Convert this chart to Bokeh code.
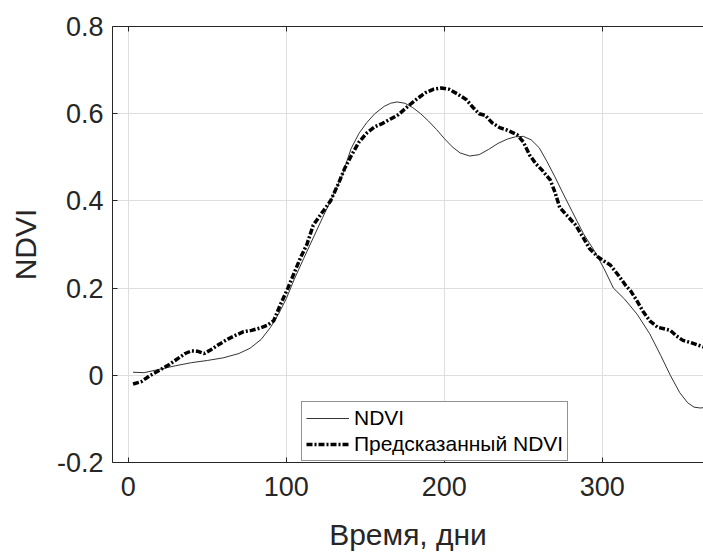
from bokeh.plotting import figure
from bokeh.models import Range1d, LinearAxis, FixedTicker
from bokeh.embed import file_html
from bokeh.resources import INLINE

# ---- data ----
ndvi_days = [3, 10, 20, 30, 40, 50, 60, 70, 77, 84, 90, 95, 100, 105, 111, 117, 123, 128,
             135, 141, 146, 151, 156, 162, 166, 170, 175, 180, 185, 190, 195, 200, 205, 210,
             216, 222, 228, 234, 240, 245, 250, 255, 260, 265, 270, 275, 281, 288, 295, 301,
             307, 314, 322, 330, 337, 343, 349, 354, 358, 362, 364]
ndvi_vals = [0.007, 0.006, 0.014, 0.022, 0.029, 0.034, 0.040, 0.050, 0.062, 0.082, 0.110,
             0.140, 0.176, 0.220, 0.268, 0.315, 0.362, 0.400, 0.455, 0.520, 0.555, 0.580,
             0.600, 0.617, 0.624, 0.627, 0.624, 0.614, 0.600, 0.583, 0.564, 0.543, 0.524,
             0.510, 0.503, 0.506, 0.518, 0.532, 0.542, 0.547, 0.548, 0.540, 0.522, 0.490,
             0.455, 0.418, 0.375, 0.325, 0.285, 0.245, 0.200, 0.175, 0.140, 0.095, 0.045,
             0.000, -0.040, -0.063, -0.073, -0.075, -0.074]

pred_days = [3, 8, 14, 20, 26, 32, 36, 40, 44, 48, 52, 57, 63, 68, 73, 78, 83, 88, 92, 96,
             101, 105, 109, 113, 117, 122, 128, 133, 137, 141, 146, 151, 156, 161, 166, 171,
             177, 182, 188, 193, 198, 203, 208, 214, 218, 222, 226, 230, 235, 240, 246, 250,
             254, 258, 262, 267, 270, 273, 278, 283, 288, 292, 297, 301, 305, 310, 315, 318,
             322, 326, 330, 335, 340, 343, 347, 351, 356, 360, 364]
pred_vals = [-0.020, -0.015, 0.000, 0.012, 0.025, 0.040, 0.050, 0.056, 0.055, 0.050, 0.058,
             0.070, 0.083, 0.092, 0.100, 0.103, 0.108, 0.115, 0.125, 0.160, 0.200, 0.235,
             0.270, 0.300, 0.344, 0.370, 0.400, 0.440, 0.475, 0.503, 0.535, 0.556, 0.570,
             0.578, 0.588, 0.598, 0.617, 0.632, 0.648, 0.656, 0.659, 0.656, 0.646, 0.632,
             0.615, 0.600, 0.596, 0.580, 0.568, 0.562, 0.552, 0.535, 0.505, 0.485, 0.470,
             0.448, 0.420, 0.385, 0.365, 0.345, 0.315, 0.290, 0.272, 0.262, 0.253, 0.230,
             0.205, 0.193, 0.170, 0.145, 0.125, 0.110, 0.106, 0.103, 0.090, 0.080, 0.075,
             0.070, 0.065]

x_ticks = [0, 100, 200, 300]
y_ticks = [-0.2, 0, 0.2, 0.4, 0.6, 0.8]
y_tick_labels = ["-0.2", "0", "0.2", "0.4", "0.6", "0.8"]
x_label = "Время, дни"
y_label = "NDVI"
series_names = ["NDVI", "Предсказанный NDVI"]

FONT = "Liberation Sans"
AX = "#262626"

p = figure(width=703, height=553, output_backend="svg", toolbar_location=None,
           x_range=Range1d(-10, 364), y_range=Range1d(-0.2, 0.8),
           min_border_left=112, min_border_right=0, min_border_top=26,
           min_border_bottom=87)
p.outline_line_color = None
p.background_fill_color = "white"
p.border_fill_color = "white"

# grid
p.xgrid.ticker = FixedTicker(ticks=x_ticks)
p.ygrid.ticker = FixedTicker(ticks=y_ticks)
p.grid.grid_line_color = "#dedede"
p.grid.grid_line_width = 1

# bottom axis
xa = p.xaxis[0]
xa.ticker = FixedTicker(ticks=x_ticks)
xa.axis_label = x_label
xa.axis_label_text_font = FONT
xa.axis_label_text_font_size = "30px"
xa.axis_label_text_font_style = "normal"
xa.axis_label_text_color = AX
xa.axis_label_standoff = 19
xa.major_label_text_font = FONT
xa.major_label_text_font_size = "27px"
xa.major_label_text_color = AX
xa.major_label_standoff = 14
xa.major_tick_in = 5
xa.major_tick_out = 0
xa.minor_tick_line_color = None
xa.axis_line_color = AX
xa.major_tick_line_color = AX

# left axis
ya = p.yaxis[0]
ya.ticker = FixedTicker(ticks=y_ticks)
ya.major_label_overrides = {t: s for t, s in zip(y_ticks, y_tick_labels)}
ya.axis_label = y_label
ya.axis_label_text_font = FONT
ya.axis_label_text_font_size = "30px"
ya.axis_label_text_font_style = "normal"
ya.axis_label_text_color = AX
ya.axis_label_standoff = 12
ya.major_label_text_font = FONT
ya.major_label_text_font_size = "27px"
ya.major_label_text_color = AX
ya.major_label_standoff = 9
ya.major_tick_in = 5
ya.major_tick_out = 0
ya.minor_tick_line_color = None
ya.axis_line_color = AX
ya.major_tick_line_color = AX

# top axis (box line with inward ticks, no labels)
top = LinearAxis(ticker=FixedTicker(ticks=x_ticks),
                 major_label_overrides={t: "" for t in x_ticks},
                 major_label_text_font_size="1px", major_label_standoff=0,
                 major_tick_in=5, major_tick_out=0, minor_tick_line_color=None,
                 axis_line_color=AX, major_tick_line_color=AX)
p.add_layout(top, "above")

# lines
p.line(ndvi_days, ndvi_vals, line_color="#333333", line_width=1,
       legend_label=series_names[0])
p.line(pred_days, pred_vals, line_color="black", line_width=3.5,
       line_dash="6 2 2 2", legend_label=series_names[1])

lg = p.legend[0]
lg.location = (189, 1)
lg.label_text_font = FONT
lg.label_text_font_size = "21px"
lg.label_text_color = "black"
lg.glyph_width = 43
lg.glyph_height = 20
lg.label_height = 20
lg.label_standoff = 5
lg.padding = 4
lg.spacing = 2
lg.margin = 0
lg.border_line_color = AX
lg.border_line_width = 1
lg.background_fill_alpha = 1

open("out.html", "w").write(file_html(p, INLINE))
